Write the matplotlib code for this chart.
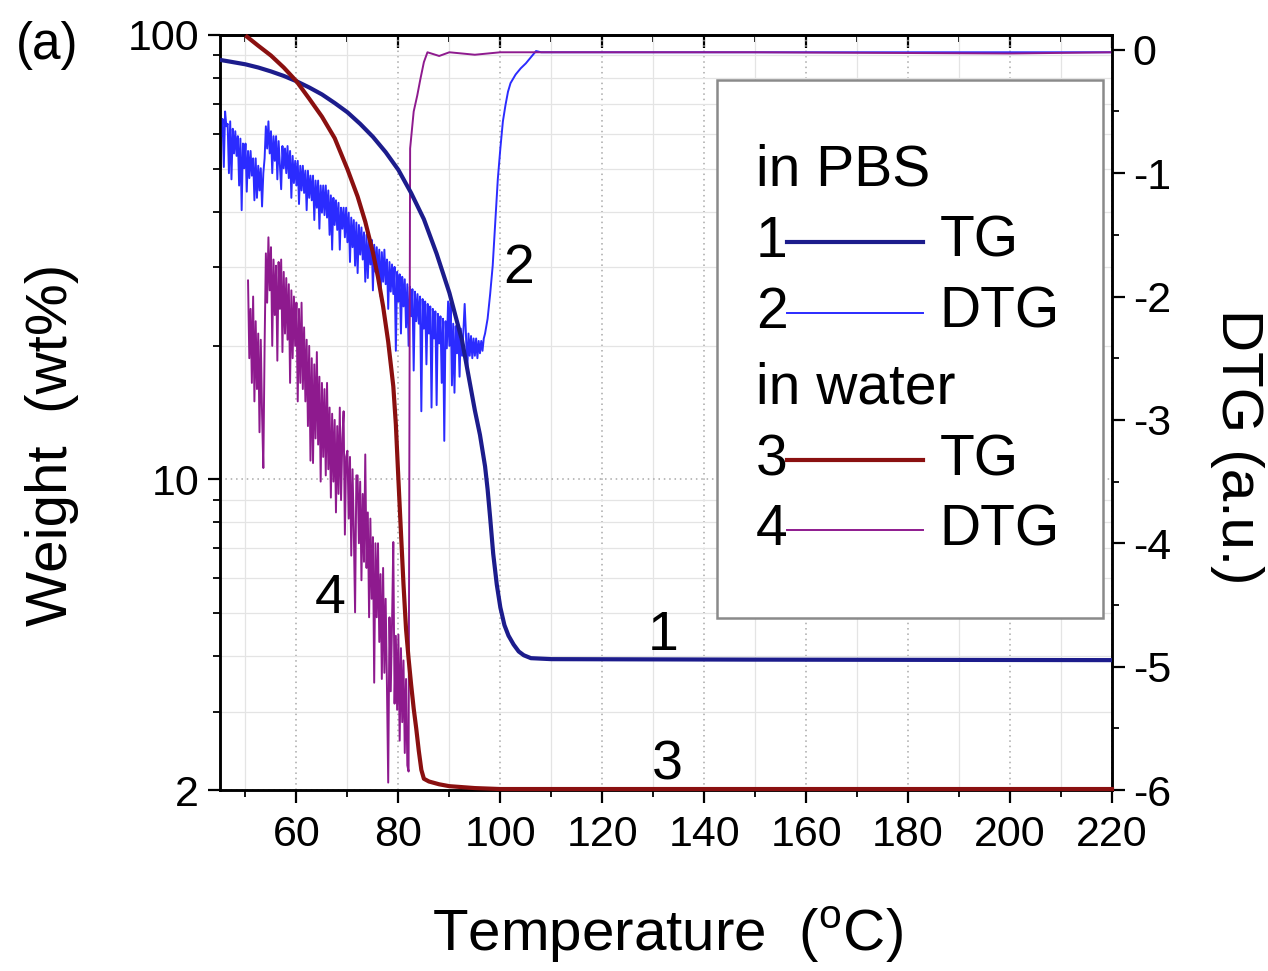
import numpy as np
import matplotlib
matplotlib.use("Agg")
import matplotlib.pyplot as plt
from matplotlib.ticker import FixedLocator, MultipleLocator, LogLocator, NullFormatter
from matplotlib.patches import Rectangle
from matplotlib.lines import Line2D

plt.rcParams['font.family'] = ['Liberation Sans', 'DejaVu Sans']
plt.rcParams['axes.unicode_minus'] = False
plt.rcParams['mathtext.fontset'] = 'custom'
plt.rcParams['mathtext.rm'] = 'Liberation Sans'

# ---- TG curves (weight, wt%) ----
tg_pbs_T = [45, 47.5, 50, 52.5, 55, 57.5, 60, 62.5, 65, 67.5, 70, 72.5, 75, 77.5,
            80, 82.5, 85, 87.5, 90, 92.5, 95, 96, 97, 97.5, 98, 98.6, 99.3, 100,
            100.8, 101.6, 102.6, 103.6, 104.6, 106, 110, 150, 220]
tg_pbs_w = [87.9, 86.9, 85.9, 84.5, 82.8, 80.9, 78.7, 76.2, 73.5, 70.3, 67.0, 63.1,
            59.0, 54.5, 49.7, 44.1, 38.5, 32.2, 26.3, 20.5, 14.3, 12.6, 10.7, 9.5,
            8.2, 6.8, 5.8, 5.15, 4.7, 4.45, 4.25, 4.1, 4.02, 3.96, 3.94, 3.93, 3.92]

tg_water_T = [50.3, 52.5, 55, 57.5, 60, 62.5, 65, 67.5, 70, 72, 73.5, 75, 76, 77,
              78, 79, 79.5, 80, 80.5, 81, 81.5, 82, 82.5, 83, 83.5, 84, 84.5, 85,
              86, 88, 90, 95, 100, 220]
tg_water_w = [99.1, 94.6, 89.9, 84.5, 78.7, 71.9, 65.5, 58.6, 49.9, 43.3, 38.0, 32.4,
              28.5, 24.5, 20.4, 16.2, 13.3, 10.0, 7.6, 5.8, 4.6, 3.95, 3.45, 3.05,
              2.75, 2.45, 2.22, 2.12, 2.09, 2.06, 2.04, 2.02, 2.01, 2.01]

# ---- DTG curves (a.u.), recorded every 0.25 degC through the noisy part ----
dtg_pbs_noisy_T = np.arange(45.0, 97.0, 0.25)
dtg_pbs_noisy = [
    -0.52, -0.70, -0.56, -0.95, -0.50, -0.62, -0.60, -1.00,   # 45-46
    -0.58, -1.05, -0.64, -0.84, -0.66, -0.86, -0.70, -1.10,   # 47-48
    -0.72, -1.30, -0.76, -0.96, -0.76, -1.15, -0.82, -1.04,   # 49-50
    -0.82, -1.02, -0.88, -1.22, -0.88, -1.20, -0.94, -1.14,   # 51-52
    -0.96, -1.27, -1.00, -0.88, -0.62, -0.80, -0.58, -0.84,   # 53-54
    -0.66, -1.00, -0.70, -0.90, -0.70, -1.05, -0.74, -0.94,   # 55-56
    -1.13, -0.78, -0.96, -0.80, -1.00, -0.78, -1.04, -0.82,   # 57-58
    -1.20, -0.86, -1.08, -0.90, -1.10, -0.90, -1.25, -0.94,   # 59-60
    -1.14, -0.94, -1.16, -0.98, -1.30, -0.98, -1.20, -1.02,   # 61-62
    -1.22, -1.02, -1.38, -1.06, -1.28, -1.06, -1.45, -1.10,   # 63-64
    -1.32, -1.10, -1.34, -1.10, -1.36, -1.14, -1.50, -1.18,   # 65-66
    -1.62, -1.20, -1.42, -1.22, -1.46, -1.24, -1.62, -1.28,   # 67-68
    -1.45, -1.28, -1.52, -1.28, -1.56, -1.32, -1.72, -1.36,   # 69-70
    -1.60, -1.38, -1.75, -1.40, -1.81, -1.42, -1.66, -1.44,   # 71-72
    -1.70, -1.48, -1.88, -1.50, -1.85, -1.52, -1.74, -1.54,   # 73-74
    -1.95, -1.58, -1.80, -1.60, -1.84, -1.62, -2.00, -1.64,   # 75-76
    -1.88, -1.62, -1.90, -1.70, -2.10, -1.72, -1.96, -1.74,   # 77-78
    -1.98, -1.76, -2.44, -1.80, -2.04, -1.82, -2.30, -1.84,   # 79-80
    -2.08, -1.86, -2.25, -1.90, -2.40, -1.92, -2.16, -1.94,   # 81-82
    -2.60, -1.96, -2.20, -1.98, -2.22, -2.00, -2.93, -2.02,   # 83-84
    -2.26, -2.04, -2.55, -2.06, -2.30, -2.08, -2.90, -2.10,   # 85-86
    -2.34, -2.12, -2.88, -2.14, -2.38, -2.16, -2.70, -2.18,   # 87-88
    -3.17, -2.20, -2.42, -2.04, -2.40, -2.05, -2.72, -2.22,   # 89-90
    -2.78, -2.24, -2.46, -2.26, -2.65, -2.26, -2.48, -2.28,   # 91-92
    -2.06, -2.30, -2.62, -2.30, -2.48, -2.32, -2.50, -2.34,   # 93-94
    -2.48, -2.34, -2.50, -2.36, -2.46, -2.36, -2.44, -2.34,   # 95-96
]
dtg_pbs_tail_T = [97, 97.5, 98, 98.5, 99, 99.5, 100, 100.5, 101, 101.5, 102, 103,
                  104, 105, 106, 107, 108, 150, 220]
dtg_pbs_tail = [-2.30, -2.18, -1.98, -1.75, -1.40, -1.05, -0.80, -0.58, -0.45, -0.34,
                -0.27, -0.20, -0.15, -0.11, -0.06, -0.01, -0.02, -0.02, -0.02]

dtg_water_noisy_T = np.arange(50.5, 82.0, 0.25)
dtg_water_noisy = [
    -1.87, -2.50,                                             # 50.5
    -2.10, -2.70, -2.00, -2.85, -2.20, -2.75, -2.30, -3.10,   # 51-52
    -2.35, -2.95, -3.39, -2.40, -1.65, -2.05, -1.52, -1.95,   # 53-54
    -1.60, -2.40, -1.70, -2.15, -1.75, -2.52, -1.72, -2.10,   # 55-56
    -1.70, -2.45, -1.80, -2.30, -1.85, -2.35, -1.90, -2.70,   # 57-58
    -1.95, -2.50, -2.00, -2.40, -2.05, -2.85, -2.10, -2.70,   # 59-60
    -2.05, -2.75, -2.25, -2.85, -2.35, -3.05, -2.40, -3.33,   # 61-62
    -2.50, -3.35, -2.55, -3.15, -2.45, -3.20, -2.65, -3.50,   # 63-64
    -2.70, -3.30, -2.75, -3.45, -2.70, -3.40, -2.90, -3.63,   # 65-66
    -2.95, -3.50, -3.00, -3.75, -3.05, -3.60, -2.90, -3.65,   # 67-68
    -3.15, -2.93, -3.93, -3.30, -3.25, -3.80, -3.30, -4.10,   # 69-70
    -3.40, -3.90, -4.56, -3.45, -3.45, -4.00, -3.50, -4.30,   # 71-72
    -3.60, -4.15, -3.28, -4.20, -3.75, -4.60, -3.80, -4.45,   # 73-74
    -3.95, -5.13, -4.00, -4.60, -4.00, -4.80, -4.25, -5.10,   # 75-76
    -4.20, -5.05, -4.45, -5.15, -5.94, -4.60, -5.20, -4.65,   # 77-78
    -3.99, -5.30, -4.75, -5.35, -4.74, -5.60, -4.85, -5.45,   # 79-80
    -4.95, -5.70, -5.10, -5.80,                               # 81
]
dtg_water_tail_T = [82.0, 82.3, 83.0, 83.7, 84.3, 85.0, 85.7, 88, 90, 95, 100, 150, 200, 220]
dtg_water_tail = [-5.85, -0.80, -0.50, -0.37, -0.24, -0.10, -0.02, -0.05, -0.02,
                  -0.04, -0.02, -0.02, -0.03, -0.02]

x_ticks = [60, 80, 100, 120, 140, 160, 180, 200, 220]
w_ticks = [2, 10, 100]
dtg_ticks = [0, -1, -2, -3, -4, -5, -6]

NAVY = '#1c1c8c'
BLUE = '#2b2bff'
MAROON = '#8a1010'
PURPLE = '#8e1a8e'

fig = plt.figure(figsize=(12.68, 9.71), dpi=100)
ax = fig.add_axes([220 / 1268, 1 - 790 / 971, 892 / 1268, 755 / 971])
ax2 = ax.twinx()

ax.set_xlim(45, 220)
ax.set_yscale('log')
ax.set_ylim(2, 100)
ax2.set_ylim(-6, 0.12)
ax2.set_autoscale_on(False)
ax.set_autoscale_on(False)

# grid on the log (left) axes, which sits underneath
ax.xaxis.set_major_locator(FixedLocator(x_ticks))
ax.xaxis.set_minor_locator(MultipleLocator(10))
ax.yaxis.set_major_locator(FixedLocator(w_ticks))
ax.yaxis.set_major_formatter(plt.FuncFormatter(lambda v, p: f"{v:g}"))
ax.yaxis.set_minor_locator(LogLocator(base=10, subs=np.arange(2, 10)))
ax.yaxis.set_minor_formatter(NullFormatter())
ax.set_axisbelow(True)
ax.grid(which='minor', axis='both', color='#e4e4e4', lw=0.9, ls='-')
ax.grid(which='major', axis='both', color='#a8a8a8', lw=1.1, ls=(0, (1, 2.5)))

ax.tick_params(axis='x', which='both', direction='out', top=False, labelsize=31, pad=9)
ax.tick_params(axis='y', which='both', direction='out', right=False, labelsize=31, pad=6)
ax.tick_params(which='major', length=9, width=1.6)
ax.tick_params(which='minor', length=5, width=1.3)

top = ax.secondary_xaxis('top')
top.xaxis.set_major_locator(FixedLocator(x_ticks))
top.xaxis.set_minor_locator(MultipleLocator(10))
top.tick_params(which='both', direction='in', labeltop=False)
top.tick_params(which='major', length=9, width=1.6)
top.tick_params(which='minor', length=5, width=1.3)

ax2.yaxis.set_major_locator(FixedLocator(dtg_ticks))
ax2.yaxis.set_minor_locator(MultipleLocator(0.5))
ax2.tick_params(axis='y', which='both', direction='out', labelsize=31, pad=6)
ax2.tick_params(which='major', length=9, width=1.6)
ax2.tick_params(which='minor', length=5, width=1.3)

for a in (ax, ax2):
    for s in a.spines.values():
        s.set_linewidth(1.8)
top.spines['top'].set_linewidth(1.8)

# DTG curves (right axis)
ax2.plot(np.concatenate([dtg_pbs_noisy_T, dtg_pbs_tail_T]),
         np.concatenate([dtg_pbs_noisy, dtg_pbs_tail]), color=BLUE, lw=1.4, zorder=2)
ax2.plot(np.concatenate([dtg_water_noisy_T, dtg_water_tail_T]),
         np.concatenate([dtg_water_noisy, dtg_water_tail]), color=PURPLE, lw=1.4, zorder=2.1)

# TG curves drawn on top, in the weight coordinate system
ax2.plot(tg_pbs_T, tg_pbs_w, color=NAVY, lw=3.0, transform=ax.transData, zorder=3)
ax2.plot(tg_water_T, tg_water_w, color=MAROON, lw=3.0, transform=ax.transData,
         zorder=3.1, clip_on=False)

# curve numbers
ax.text(132, 4.45, '1', fontsize=40, ha='center', va='center')
ax2.text(103.5, -1.78, '2', fontsize=40, ha='center', va='center', zorder=5)
ax.text(132.8, 2.27, '3', fontsize=40, ha='center', va='center')
ax2.text(66.6, -4.45, '4', fontsize=40, ha='center', va='center', zorder=5)

# key box
tA = ax2.transAxes
ax2.add_patch(Rectangle((0.557, 0.228), 0.433, 0.712, transform=tA, facecolor='white',
                        edgecolor='#8a8a8a', lw=1.8, zorder=6))
key_fs = 41
xl = 0.601
ax2.text(xl, 0.821, 'in PBS', transform=tA, fontsize=key_fs, va='center', ha='left', zorder=7)
ax2.text(xl, 0.532, 'in water', transform=tA, fontsize=key_fs, va='center', ha='left', zorder=7)
key_rows = [('1', 0.726, NAVY, 3.0, 'TG'), ('2', 0.632, BLUE, 1.4, 'DTG'),
            ('3', 0.437, MAROON, 3.0, 'TG'), ('4', 0.344, PURPLE, 1.4, 'DTG')]
for num, yy, col, lw, name in key_rows:
    ax2.text(xl, yy, num, transform=tA, fontsize=key_fs, va='center', ha='left', zorder=7)
    ax2.add_line(Line2D([0.636, 0.788], [yy, yy], transform=tA, color=col, lw=lw, zorder=7))
    ax2.text(0.807, yy, name, transform=tA, fontsize=key_fs, va='center', ha='left', zorder=7)

# axis titles
fig.text(52 / 1268, 1 - 445 / 971, 'Weight  (wt%)', rotation=90, fontsize=42,
         ha='center', va='center')
fig.text(667 / 1268, 1 - 935 / 971, r'Temperature  ($^{\mathrm{o}}$C)', fontsize=42,
         ha='center', va='center')
fig.text(1237 / 1268, 1 - 447 / 971, 'DTG (a.u.)', rotation=270, fontsize=42,
         ha='center', va='center')
fig.text(47 / 1268, 1 - 45 / 971, '(a)', fontsize=37, ha='center', va='center')

fig.savefig('out.png', dpi=100, facecolor='white')
